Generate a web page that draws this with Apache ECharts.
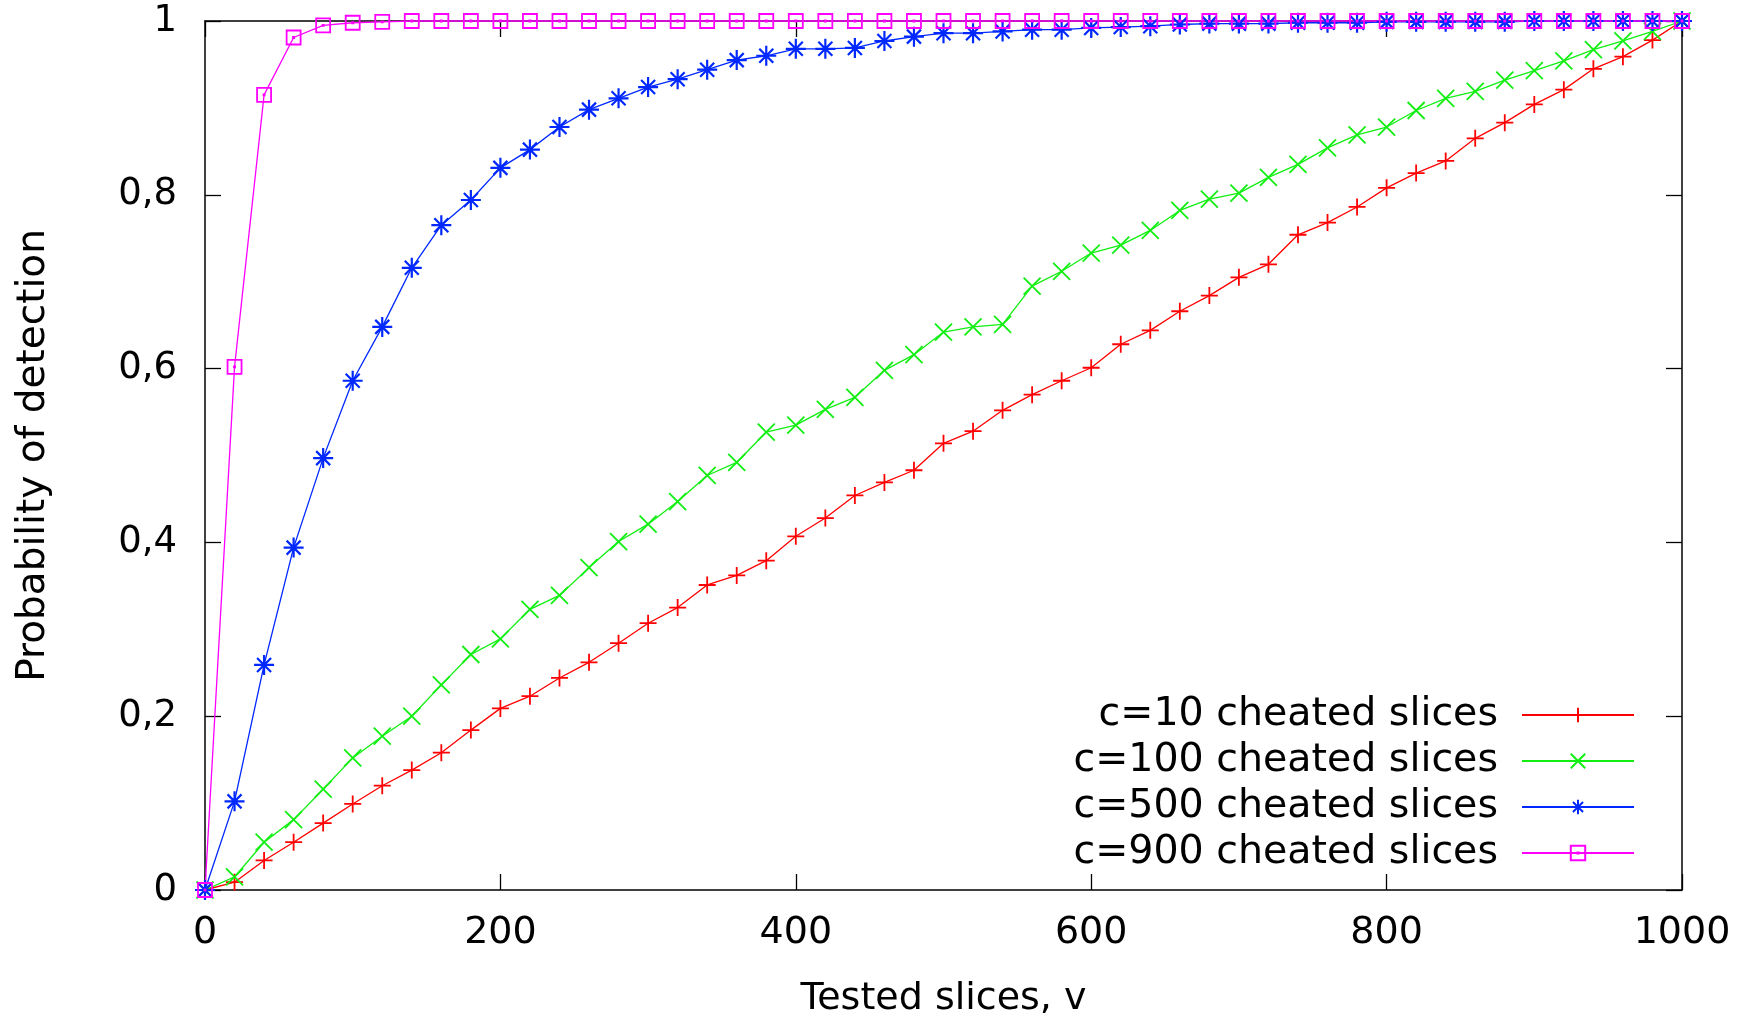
<!DOCTYPE html>
<html>
<head>
<meta charset="utf-8">
<title>Probability of detection</title>
<script src="https://cdn.jsdelivr.net/npm/echarts@6/dist/echarts.min.js"></script>
<style>
  html, body { margin: 0; padding: 0; background: #fff; }
  #chart { width: 1756px; height: 1023px; }
</style>
</head>
<body>
<div id="chart"></div>
<script>
// tested slices v
var xs = [0, 20, 40, 60, 80, 100, 120, 140, 160, 180, 200, 220, 240, 260, 280, 300, 320, 340, 360, 380,
  400, 420, 440, 460, 480, 500, 520, 540, 560, 580, 600, 620, 640, 660, 680, 700, 720, 740, 760, 780,
  800, 820, 840, 860, 880, 900, 920, 940, 960, 980, 1000];

// c=10
var c10 = [0, 0.009, 0.034, 0.055, 0.077, 0.099, 0.12, 0.138, 0.158, 0.184, 0.209, 0.223, 0.244, 0.262, 0.284, 0.307, 0.325, 0.351, 0.362, 0.379,
  0.407, 0.428, 0.454, 0.469, 0.483, 0.514, 0.528, 0.552, 0.57, 0.586, 0.601, 0.628, 0.644, 0.666, 0.684, 0.705, 0.72, 0.754, 0.768, 0.786,
  0.808, 0.825, 0.839, 0.865, 0.883, 0.904, 0.921, 0.945, 0.959, 0.978, 1];
// c=100
var c100 = [0, 0.015, 0.055, 0.081, 0.116, 0.152, 0.177, 0.2, 0.236, 0.271, 0.289, 0.323, 0.339, 0.371, 0.401, 0.421, 0.447, 0.477, 0.492, 0.527,
  0.535, 0.553, 0.567, 0.598, 0.616, 0.642, 0.648, 0.651, 0.695, 0.712, 0.733, 0.742, 0.759, 0.782, 0.795, 0.802, 0.82, 0.835, 0.854, 0.869,
  0.878, 0.897, 0.911, 0.919, 0.932, 0.943, 0.954, 0.967, 0.977, 0.988, 1];
// c=500
var c500 = [0, 0.102, 0.259, 0.394, 0.497, 0.586, 0.648, 0.716, 0.765, 0.794, 0.831, 0.852, 0.878, 0.898, 0.911, 0.924, 0.933, 0.944, 0.955, 0.96,
  0.968, 0.968, 0.969, 0.977, 0.982, 0.986, 0.986, 0.988, 0.99, 0.99, 0.992, 0.993, 0.994, 0.996, 0.997, 0.997, 0.997, 0.998, 0.998, 0.998,
  0.999, 0.999, 0.999, 0.999, 0.999, 1, 1, 1, 1, 1, 1];
// c=900
var c900 = [0, 0.602, 0.915, 0.981, 0.995, 0.998, 0.999, 1, 1, 1, 1, 1, 1, 1, 1, 1, 1, 1, 1, 1,
  1, 1, 1, 1, 1, 1, 1, 1, 1, 1, 1, 1, 1, 1, 1, 1, 1, 1, 1, 1,
  1, 1, 1, 1, 1, 1, 1, 1, 1, 1, 1];

var names = ['c=10 cheated slices', 'c=100 cheated slices', 'c=500 cheated slices', 'c=900 cheated slices'];
var colors = ['#ff0000', '#11ee11', '#0028ff', '#ff00ff'];

// gnuplot point types: +, x, *, square with dot
var marks = [
  'path://M0,5H10M5,0V10',
  'path://M0,0L10,10M10,0L0,10',
  'path://M0,5H10M5,0V10M1.5,1.5L8.5,8.5M8.5,1.5L1.5,8.5',
  'path://M0,0H10V10H0ZM4.6,4.6H5.4V5.4H4.6Z'
];
var markSizes = [17, 17, 20, 14];
var markWidths = [1.8, 1.8, 2.2, 1.8];

var font = 'DejaVu Sans';

function pairs(ys) {
  return xs.map(function (x, i) { return [x, ys[i]]; });
}

function makeSeries(k, ys) {
  return {
    name: names[k],
    type: 'line',
    data: pairs(ys),
    symbol: marks[k],
    symbolSize: markSizes[k],
    showAllSymbol: true,
    clip: false,
    lineStyle: { color: colors[k], width: 1.3 },
    itemStyle: { color: 'none', borderColor: colors[k], borderWidth: markWidths[k] },
    emphasis: { disabled: true }
  };
}

var frameLine = { show: true, onZero: false, lineStyle: { color: '#000', width: 1.5 } };
var tickIn = { show: true, inside: true, length: 16, lineStyle: { color: '#000', width: 1.3 } };

var chart = echarts.init(document.getElementById('chart'));

var option = {
  animation: false,
  backgroundColor: '#fff',
  grid: { left: 205, right: 74, top: 21, bottom: 133 },
  legend: {
    orient: 'vertical',
    align: 'right',
    right: 116,
    top: 690,
    itemWidth: 112,
    itemHeight: 18,
    itemGap: 6,
    selectedMode: false,
    textStyle: { fontFamily: font, fontSize: 39.5, color: '#000', lineHeight: 40, padding: [0, 19, 0, 0] },
    data: names
  },
  xAxis: [
    {
      type: 'value', min: 0, max: 1000, interval: 200,
      name: 'Tested slices, v', nameLocation: 'middle', nameGap: 90,
      nameTextStyle: { fontFamily: font, fontSize: 38, color: '#000' },
      axisLine: frameLine, axisTick: tickIn,
      axisLabel: { fontFamily: font, fontSize: 38, color: '#000', margin: 24, formatter: function (v) { return String(v); } },
      splitLine: { show: false }
    },
    {
      type: 'value', position: 'top', min: 0, max: 1000, interval: 200,
      axisLine: frameLine, axisTick: tickIn,
      axisLabel: { show: false }, splitLine: { show: false }
    }
  ],
  yAxis: [
    {
      type: 'value', min: 0, max: 1, interval: 0.2,
      name: 'Probability of detection', nameLocation: 'middle', nameGap: 152,
      nameTextStyle: { fontFamily: font, fontSize: 39, color: '#000' },
      axisLine: frameLine, axisTick: tickIn,
      axisLabel: {
        fontFamily: font, fontSize: 37, color: '#000', margin: 28,
        formatter: function (v) { return String(+v.toFixed(1)).replace('.', ','); }
      },
      splitLine: { show: false }
    },
    {
      type: 'value', position: 'right', min: 0, max: 1, interval: 0.2,
      axisLine: frameLine, axisTick: tickIn,
      axisLabel: { show: false }, splitLine: { show: false }
    }
  ],
  series: [
    makeSeries(0, c10),
    makeSeries(1, c100),
    makeSeries(2, c500),
    makeSeries(3, c900)
  ]
};

chart.setOption(option);
</script>
</body>
</html>
